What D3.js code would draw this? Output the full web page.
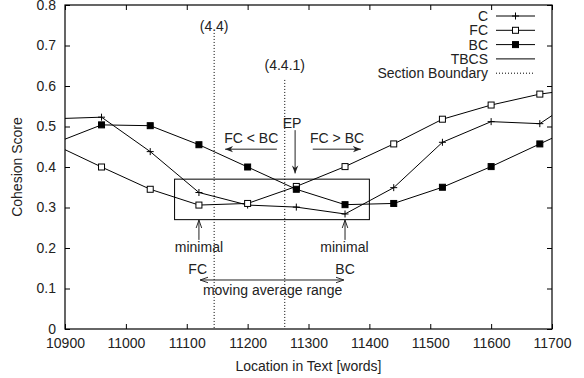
<!DOCTYPE html>
<html>
<head>
<meta charset="utf-8">
<script src="https://cdn.jsdelivr.net/npm/d3@7"></script>
<style>
  html, body { margin: 0; padding: 0; background: #fff; }
  svg text { font-family: "Liberation Sans", Arial, sans-serif; font-size: 14px; fill: #222; }
  .axis path { display: none; }
  .axis line { stroke: #000; stroke-width: 1; }
</style>
</head>
<body>
<div id="chart"></div>
<script>
// Cohesion scores around a section boundary: C, FC, BC curves plus the
// boundary markers and the moving-average window annotations.

const locations = [10880, 10960, 11040, 11120, 11200, 11280, 11360, 11440, 11520, 11600, 11680, 11760];
const cScores  = [0.519, 0.523, 0.438, 0.337, 0.306, 0.301, 0.284, 0.349, 0.461, 0.512, 0.507, 0.587];
const fcScores = [0.457, 0.400, 0.345, 0.306, 0.310, 0.352, 0.401, 0.457, 0.518, 0.553, 0.580, 0.596];
const bcScores = [0.457, 0.504, 0.502, 0.455, 0.400, 0.345, 0.307, 0.310, 0.350, 0.401, 0.457, 0.513];

const xTicks = [10900, 11000, 11100, 11200, 11300, 11400, 11500, 11600, 11700];
const yTicks = [0, 0.1, 0.2, 0.3, 0.4, 0.5, 0.6, 0.7, 0.8];

const boundaries = [11145, 11261];
const boundaryLabels = ["(4.4)", "(4.4.1)"];
const boundaryLabelY = [0.748, 0.652];
const boundaryTopY = [0.731, 0.615];

const tbcsBox = { x0: 11080, x1: 11400, y0: 0.27, y1: 0.37 };

const width = 584, height = 378;
const m = { top: 5, right: 32, bottom: 49, left: 65 };

const svg = d3.select("#chart").append("svg")
  .attr("width", width).attr("height", height).attr("viewBox", `0 0 ${width} ${height}`);

const x = d3.scaleLinear().domain([10900, 11700]).range([m.left, width - m.right]);
const y = d3.scaleLinear().domain([0, 0.8]).range([height - m.bottom, m.top]);

const defs = svg.append("defs");
defs.append("clipPath").attr("id", "plotClip").append("rect")
  .attr("x", x(10900)).attr("y", y(0.8)).attr("width", x(11700) - x(10900)).attr("height", y(0) - y(0.8));
defs.append("marker").attr("id", "headFilled").attr("viewBox", "0 0 10 10")
  .attr("refX", 10).attr("refY", 5).attr("markerWidth", 8).attr("markerHeight", 8)
  .attr("markerUnits", "userSpaceOnUse").attr("orient", "auto-start-reverse")
  .append("path").attr("d", "M0,1 L10,5 L0,9 L3,5 Z").attr("fill", "#222");
defs.append("marker").attr("id", "headOpen").attr("viewBox", "0 0 10 10")
  .attr("refX", 10).attr("refY", 5).attr("markerWidth", 8).attr("markerHeight", 8)
  .attr("markerUnits", "userSpaceOnUse").attr("orient", "auto-start-reverse")
  .append("path").attr("d", "M0,1.5 L10,5 L0,8.5").attr("fill", "none").attr("stroke", "#222").attr("stroke-width", 1.2);

// axes: inward ticks, mirrored on top and right
svg.append("g").attr("class", "axis").attr("transform", `translate(0,${y(0)})`)
  .call(d3.axisBottom(x).tickValues(xTicks).tickSize(-5).tickSizeOuter(0).tickPadding(9).tickFormat(d3.format("d")));
svg.append("g").attr("class", "axis").attr("transform", `translate(0,${y(0.8)})`)
  .call(d3.axisTop(x).tickValues(xTicks).tickSize(-5).tickSizeOuter(0).tickFormat(""));
svg.append("g").attr("class", "axis").attr("transform", `translate(${x(10900)},0)`)
  .call(d3.axisLeft(y).tickValues(yTicks).tickSize(-5).tickSizeOuter(0).tickPadding(9).tickFormat((d) => d === 0 ? "0" : d3.format(".1f")(d)));
svg.append("g").attr("class", "axis").attr("transform", `translate(${x(11700)},0)`)
  .call(d3.axisRight(y).tickValues(yTicks).tickSize(-5).tickSizeOuter(0).tickFormat(""));
svg.selectAll(".axis text").attr("fill", "#222").style("font-size", "14px")
  .style("font-family", "\"Liberation Sans\", Arial, sans-serif");

svg.append("text").attr("x", (x(10900) + x(11700)) / 2).attr("y", 371)
  .attr("text-anchor", "middle").text("Location in Text [words]");
svg.append("text").attr("transform", `translate(22,${(y(0) + y(0.8)) / 2}) rotate(-90)`)
  .attr("text-anchor", "middle").text("Cohesion Score");

// section boundaries
boundaries.forEach((b, i) => {
  svg.append("line").attr("x1", x(b)).attr("x2", x(b)).attr("y1", y(boundaryTopY[i])).attr("y2", y(0))
    .attr("stroke", "#000").attr("stroke-width", 1).attr("stroke-dasharray", "1,2");
  svg.append("text").attr("x", x(b)).attr("y", y(boundaryLabelY[i]) + 5)
    .attr("text-anchor", "middle").text(boundaryLabels[i]);
});

// TBCS window box
svg.append("rect").attr("x", x(tbcsBox.x0)).attr("y", y(tbcsBox.y1))
  .attr("width", x(tbcsBox.x1) - x(tbcsBox.x0)).attr("height", y(tbcsBox.y0) - y(tbcsBox.y1))
  .attr("fill", "none").attr("stroke", "#000").attr("stroke-width", 1);

const plot = svg.append("g").attr("clip-path", "url(#plotClip)");
const series = [
  { name: "C", values: cScores, mark: "plus" },
  { name: "FC", values: fcScores, mark: "open" },
  { name: "BC", values: bcScores, mark: "filled" },
];
const line = d3.line().x((d) => x(d[0])).y((d) => y(d[1]));

function drawMark(g, mark, cx, cy) {
  if (mark === "plus") {
    g.append("path").attr("d", `M${cx - 3.5},${cy}H${cx + 3.5}M${cx},${cy - 3.5}V${cy + 3.5}`)
      .attr("stroke", "#000").attr("stroke-width", 1);
  } else {
    g.append("rect").attr("x", cx - 3).attr("y", cy - 3).attr("width", 6).attr("height", 6)
      .attr("fill", mark === "filled" ? "#000" : "#fff").attr("stroke", "#000").attr("stroke-width", 1);
  }
}

series.forEach((s) => {
  const pts = locations.map((l, i) => [l, s.values[i]]);
  plot.append("path").datum(pts).attr("fill", "none").attr("stroke", "#000").attr("stroke-width", 1).attr("d", line);
  pts.filter((p) => p[0] >= 10900 && p[0] <= 11700).forEach((p) => drawMark(plot, s.mark, x(p[0]), y(p[1])));
});

// annotations
const arrows = [
  { x1: 11278, y1: 0.491, x2: 11278, y2: 0.384, head: "headFilled" },
  { x1: 11248, y1: 0.444, x2: 11163, y2: 0.444, head: "headFilled" },
  { x1: 11307, y1: 0.444, x2: 11386, y2: 0.444, head: "headFilled" },
  { x1: 11120, y1: 0.220, x2: 11120, y2: 0.269, head: "headOpen" },
  { x1: 11360, y1: 0.220, x2: 11360, y2: 0.269, head: "headOpen" },
  { x1: 11122, y1: 0.121, x2: 11358, y2: 0.121, head: "headOpen", both: true },
];
arrows.forEach((a) => {
  const ln = svg.append("line").attr("x1", x(a.x1)).attr("y1", y(a.y1)).attr("x2", x(a.x2)).attr("y2", y(a.y2))
    .attr("stroke", "#222").attr("stroke-width", 1).attr("marker-end", `url(#${a.head})`);
  if (a.both) ln.attr("marker-start", `url(#${a.head})`);
});

const notes = [
  { text: "EP", x: 11273, y: 0.509 },
  { text: "FC < BC", x: 11206, y: 0.472 },
  { text: "FC > BC", x: 11347, y: 0.472 },
  { text: "minimal", x: 11120, y: 0.202 },
  { text: "FC", x: 11118, y: 0.148 },
  { text: "minimal", x: 11359, y: 0.202 },
  { text: "BC", x: 11360, y: 0.148 },
  { text: "moving average range", x: 11241, y: 0.096 },
];
notes.forEach((n) => {
  svg.append("text").attr("x", x(n.x)).attr("y", y(n.y) + 5).attr("text-anchor", "middle").text(n.text);
});

// legend
const legendItems = [
  { name: "C", mark: "plus", dash: null },
  { name: "FC", mark: "open", dash: null },
  { name: "BC", mark: "filled", dash: null },
  { name: "TBCS", mark: null, dash: null },
  { name: "Section Boundary", mark: null, dash: "1,2" },
];
const legend = svg.append("g");
legendItems.forEach((d, i) => {
  const cy = 16 + i * 14.3;
  legend.append("text").attr("x", 488).attr("y", cy + 5).attr("text-anchor", "end").text(d.name);
  const l = legend.append("line").attr("x1", 496).attr("x2", 535).attr("y1", cy).attr("y2", cy)
    .attr("stroke", "#000").attr("stroke-width", 1);
  if (d.dash) l.attr("stroke-dasharray", d.dash);
  if (d.mark) drawMark(legend, d.mark, 515.5, cy);
});

// frame
svg.append("rect").attr("x", x(10900)).attr("y", y(0.8)).attr("width", x(11700) - x(10900))
  .attr("height", y(0) - y(0.8)).attr("fill", "none").attr("stroke", "#000").attr("stroke-width", 1.2);
</script>
</body>
</html>
